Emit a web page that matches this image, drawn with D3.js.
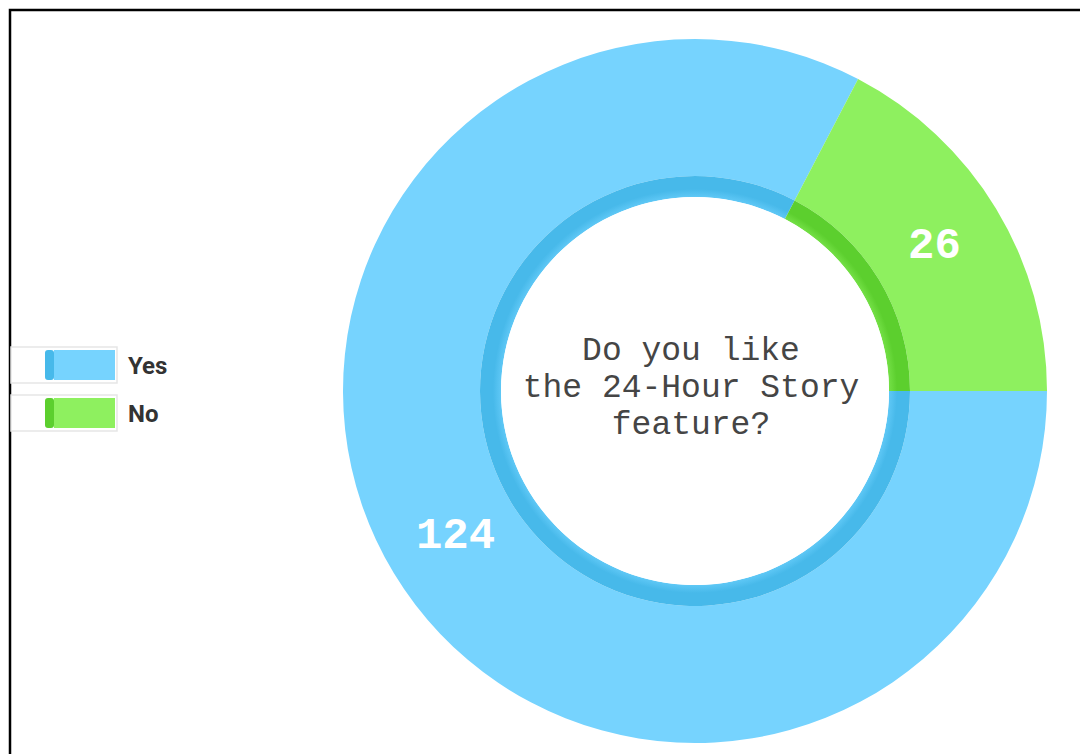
<!DOCTYPE html>
<html>
<head>
<meta charset="utf-8">
<script src="https://cdn.jsdelivr.net/npm/d3@7"></script>
<style>
  html, body { margin: 0; padding: 0; background: #fff; }
  svg { display: block; }
</style>
</head>
<body>
<div id="chart"></div>
<script>
// survey answers
const categories = ['Yes', 'No'];
const counts = [124, 26];
const question = ['Do you like', 'the 24-Hour Story', 'feature?'];

const colors = d3.scaleOrdinal().domain(categories).range(['#76d3fe', '#8ef05f']);
const ringColors = d3.scaleOrdinal().domain(categories).range(['#47b9ea', '#5ccf2e']);
const ringLight = d3.scaleOrdinal().domain(categories).range(['#5fc8f6', '#74e046']);

const width = 1080, height = 754;
const cx = 695, cy = 391;
const outerR = 352, ringR = 215, holeR = 194;

const svg = d3.select('#chart').append('svg')
  .attr('width', width)
  .attr('height', height);

// soft shading across the inner ring
const defs = svg.append('defs');
categories.forEach(c => {
  const grad = defs.append('radialGradient')
    .attr('id', 'ring-' + c)
    .attr('gradientUnits', 'userSpaceOnUse')
    .attr('cx', 0).attr('cy', 0).attr('r', ringR);
  grad.append('stop').attr('offset', holeR / ringR).attr('stop-color', ringLight(c));
  grad.append('stop').attr('offset', (holeR + 8) / ringR).attr('stop-color', ringColors(c));
  grad.append('stop').attr('offset', 1).attr('stop-color', ringColors(c));
});

// frame
svg.append('rect')
  .attr('x', 10).attr('y', 10)
  .attr('width', 1200).attr('height', 900)
  .attr('fill', '#fff')
  .attr('stroke', '#000')
  .attr('stroke-width', 2.5);

const data = categories.map((c, i) => ({ name: c, value: counts[i] }));

const pie = d3.pie()
  .sort(null)
  .value(d => d.value)
  .startAngle(Math.PI / 2)
  .endAngle(Math.PI / 2 + 2 * Math.PI);

const arcs = pie(data);

const outerArc = d3.arc().innerRadius(ringR).outerRadius(outerR);
const ringArc = d3.arc().innerRadius(holeR).outerRadius(ringR);
const labelArc = d3.arc().innerRadius(270).outerRadius(290);

const g = svg.append('g').attr('transform', `translate(${cx},${cy})`);

g.selectAll('path.slice')
  .data(arcs)
  .join('path')
  .attr('class', 'slice')
  .attr('d', outerArc)
  .attr('fill', d => colors(d.data.name));

g.selectAll('path.ring')
  .data(arcs)
  .join('path')
  .attr('class', 'ring')
  .attr('d', ringArc)
  .attr('fill', d => `url(#ring-${d.data.name})`);

g.append('circle')
  .attr('r', holeR)
  .attr('fill', '#fff');

// value labels
g.selectAll('text.value')
  .data(arcs)
  .join('text')
  .attr('class', 'value')
  .attr('transform', d => `translate(${labelArc.centroid(d)})`)
  .attr('text-anchor', 'middle')
  .attr('dominant-baseline', 'central')
  .attr('font-family', '"Liberation Mono", "DejaVu Sans Mono", monospace')
  .attr('font-weight', 'bold')
  .attr('font-size', 44)
  .attr('fill', '#fff')
  .text(d => d.data.value);

// question in the hole
g.append('text')
  .attr('text-anchor', 'middle')
  .attr('font-family', '"Liberation Mono", "DejaVu Sans Mono", monospace')
  .attr('font-size', 33)
  .attr('fill', '#454545')
  .selectAll('tspan')
  .data(question)
  .join('tspan')
  .attr('x', -4)
  .attr('y', (d, i) => -31 + i * 37)
  .text(d => d);

// legend
const legend = svg.append('g').attr('transform', 'translate(11,347)');
const row = legend.selectAll('g')
  .data(categories)
  .join('g')
  .attr('transform', (d, i) => `translate(0,${i * 48})`);

row.append('rect')
  .attr('x', 0).attr('y', 0)
  .attr('width', 106).attr('height', 36)
  .attr('fill', '#fff')
  .attr('stroke', '#e6e6e6')
  .attr('stroke-width', 1.5);

row.append('rect')
  .attr('x', 43).attr('y', 3)
  .attr('width', 61).attr('height', 30)
  .attr('fill', d => colors(d));

row.append('rect')
  .attr('x', 34).attr('y', 3)
  .attr('width', 9).attr('height', 30)
  .attr('rx', 3)
  .attr('fill', d => ringColors(d));

row.append('text')
  .attr('x', 117)
  .attr('y', 19)
  .attr('dominant-baseline', 'central')
  .attr('font-family', '"Liberation Sans Narrow", "Roboto", sans-serif')
  .attr('font-weight', 'bold')
  .attr('font-size', 24)
  .attr('fill', '#333')
  .text(d => d);
</script>
</body>
</html>
